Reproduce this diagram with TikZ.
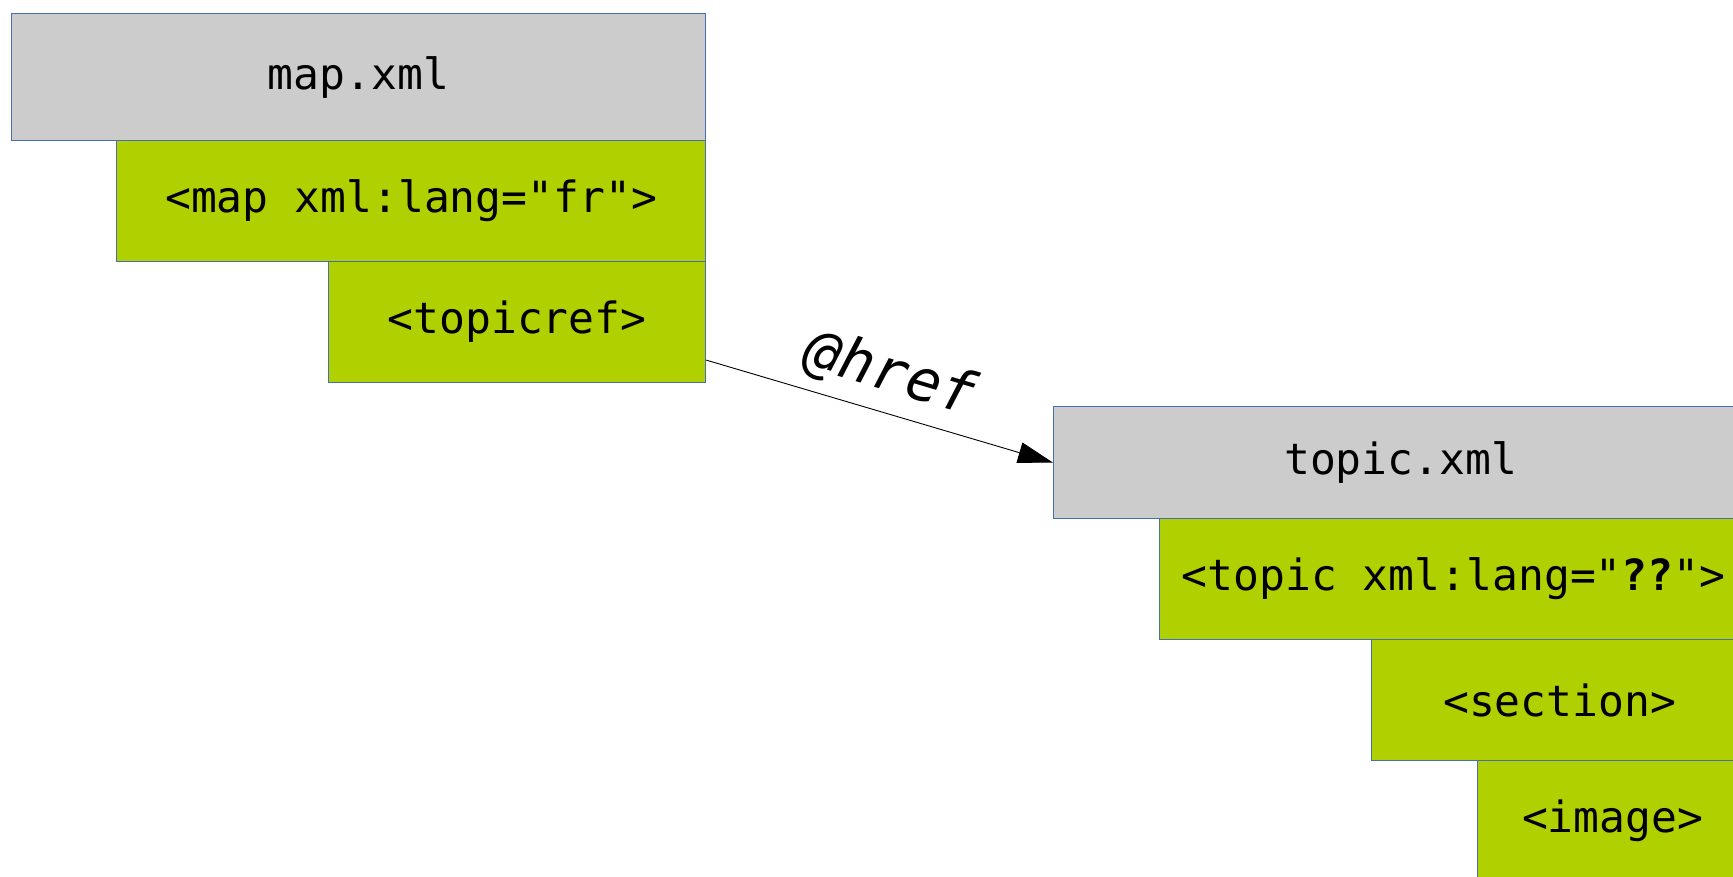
\documentclass[tikz,border=0pt]{standalone}
\usepackage{fontspec}
\setmonofont{DejaVu Sans Mono}
\usetikzlibrary{arrows.meta}
\definecolor{bord}{RGB}{70,110,180}
\definecolor{hdrgray}{RGB}{204,204,204}
\definecolor{eltgreen}{RGB}{176,208,0}
\newcommand{\bt}{\ttfamily\fontsize{43}{50}\selectfont}
\newcommand{\lt}{\ttfamily\itshape\fontsize{58}{66}\selectfont}
\tikzset{
  box/.style={draw=bord, line width=1.2pt, inner sep=0pt, anchor=north west, font=\bt, text=black},
  hdr/.style={box, fill=hdrgray},
  elt/.style={box, fill=eltgreen},
  link/.style={line width=0.9pt, draw=black, -{Triangle[length=35pt,width=21pt]}},
}
\begin{document}
\begin{tikzpicture}[x=1pt,y=-1pt]
\clip (0,0) rectangle (1733,877);
\fill[white] (0,0) rectangle (1733,877);
% map side
\node[hdr, minimum width=694pt, minimum height=127pt] (map) at (11,13) {map.xml};
\node[elt, minimum width=589pt, minimum height=121pt] (maplang) at (116,140) {<map xml:lang="fr">};
\node[elt, minimum width=377pt, minimum height=121pt] (tref) at (328,261) {<topicref>};
% topic side
\node[hdr, minimum width=694pt, minimum height=112pt] (topic) at (1053,406) {topic.xml};
\node[elt, minimum width=588pt, minimum height=121pt] (topiclang) at (1159,518) {<topic xml:lang="\textbf{??}">};
\node[elt, minimum width=376pt, minimum height=121pt] (sect) at (1371,639) {<section>};
\node[elt, minimum width=270pt, minimum height=121pt] (img) at (1477,760) {<image>};
% link
\draw[link] ([yshift=-38pt]tref.east) -- (topic.west)
  node[midway, sloped, above=12pt, inner sep=0pt, font=\lt] (hreflabel) {@href};
\end{tikzpicture}
\end{document}
